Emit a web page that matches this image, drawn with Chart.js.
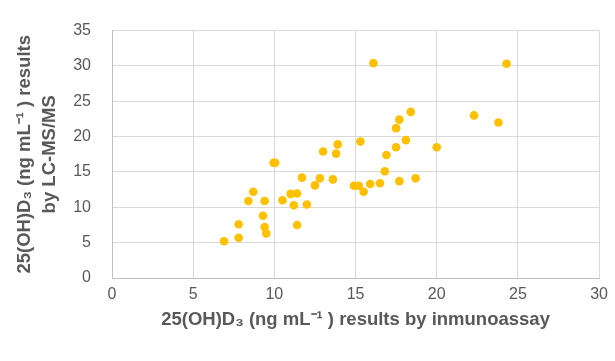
<!DOCTYPE html>
<html>
<head>
<meta charset="utf-8">
<script src="https://cdn.jsdelivr.net/npm/chart.js@4/dist/chart.umd.min.js"></script>
<style>
  html, body { margin: 0; padding: 0; background: #fff; }
  #wrap { width: 615px; height: 361px; }
</style>
</head>
<body>
<div id="wrap"><canvas id="chart" width="615" height="361"></canvas></div>
<script>
// 25(OH)D3 results, immunoassay (x) vs LC-MS/MS (y), ng/mL
const immunoassay = [6.9, 7.8, 7.8, 8.4, 8.7, 9.4, 9.3, 9.4, 9.5, 9.95, 10.05,
    10.5, 11.0, 11.4, 11.2, 12.0, 11.4, 11.7, 12.5, 12.8, 13.0, 13.6, 13.8,
    13.9, 14.9, 15.2, 15.5, 15.3, 15.9, 16.1, 16.5, 16.8, 16.9, 17.5, 17.5,
    17.7, 17.7, 18.1, 18.4, 18.7, 20.0, 22.3, 23.8, 24.3];
const lcmsms = [5.2, 5.7, 7.6, 10.9, 12.2, 10.9, 8.8, 7.2, 6.3, 16.3, 16.3,
    11.0, 11.9, 11.95, 10.3, 10.4, 7.5, 14.2, 13.1, 14.1, 17.9, 13.95, 17.6,
    18.9, 13.05, 13.05, 12.2, 19.3, 13.3, 30.4, 13.4, 15.1, 17.4, 18.5, 21.2,
    22.4, 13.7, 19.5, 23.5, 14.1, 18.5, 23.0, 22.0, 30.3];

const xTickLabels = ['0', '5', '10', '15', '20', '25', '30'];
const yTickLabels = ['0', '5', '10', '15', '20', '25', '30', '35'];

const xTitle = '25(OH)D\u2083 (ng mL\u207B\u00B9 ) results by inmunoassay';
const yTitle = ['25(OH)D\u2083 (ng mL\u207B\u00B9 ) results', 'by LC-MS/MS'];

const points = immunoassay.map((x, i) => ({ x: x, y: lcmsms[i] }));

const gray = '#595959';
const gridColor = '#d9d9d9';
const tickFont = { family: '"Liberation Sans", Arial, sans-serif', size: 16 };
const titleFont = { family: '"Liberation Sans", Arial, sans-serif', size: 18.5, weight: 'bold', lineHeight: 1.35 };

new Chart(document.getElementById('chart').getContext('2d'), {
    type: 'scatter',
    data: {
        datasets: [{
            data: points,
            backgroundColor: '#FFC000',
            borderWidth: 0,
            pointRadius: 4.3,
            pointHoverRadius: 4.3
        }]
    },
    options: {
        responsive: false,
        animation: false,
        devicePixelRatio: 1,
        layout: { padding: { top: 16, right: 14, left: 0, bottom: 0 } },
        plugins: {
            legend: { display: false },
            tooltip: { enabled: false }
        },
        scales: {
            x: {
                type: 'linear',
                min: 0,
                max: 30,
                afterFit: function(scale) { scale.height = 83; },
                ticks: {
                    stepSize: 5,
                    padding: 7,
                    color: gray,
                    font: tickFont,
                    maxRotation: 0,
                    callback: function(value, index) { return xTickLabels[index]; }
                },
                grid: { color: gridColor, drawTicks: false },
                border: { color: '#bfbfbf' },
                title: {
                    display: true,
                    text: xTitle,
                    color: gray,
                    font: titleFont,
                    padding: { top: 0, bottom: 28.5 }
                }
            },
            y: {
                type: 'linear',
                min: 0,
                max: 35,
                afterFit: function(scale) { scale.width = 112; },
                ticks: {
                    stepSize: 5,
                    padding: 21,
                    color: gray,
                    font: tickFont,
                    callback: function(value, index) { return yTickLabels[index]; }
                },
                grid: { color: gridColor, drawTicks: false },
                border: { color: '#bfbfbf' },
                title: {
                    display: true,
                    text: yTitle,
                    color: gray,
                    font: titleFont,
                    padding: { top: 12.5, bottom: 0 }
                }
            }
        }
    }
});
</script>
</body>
</html>
